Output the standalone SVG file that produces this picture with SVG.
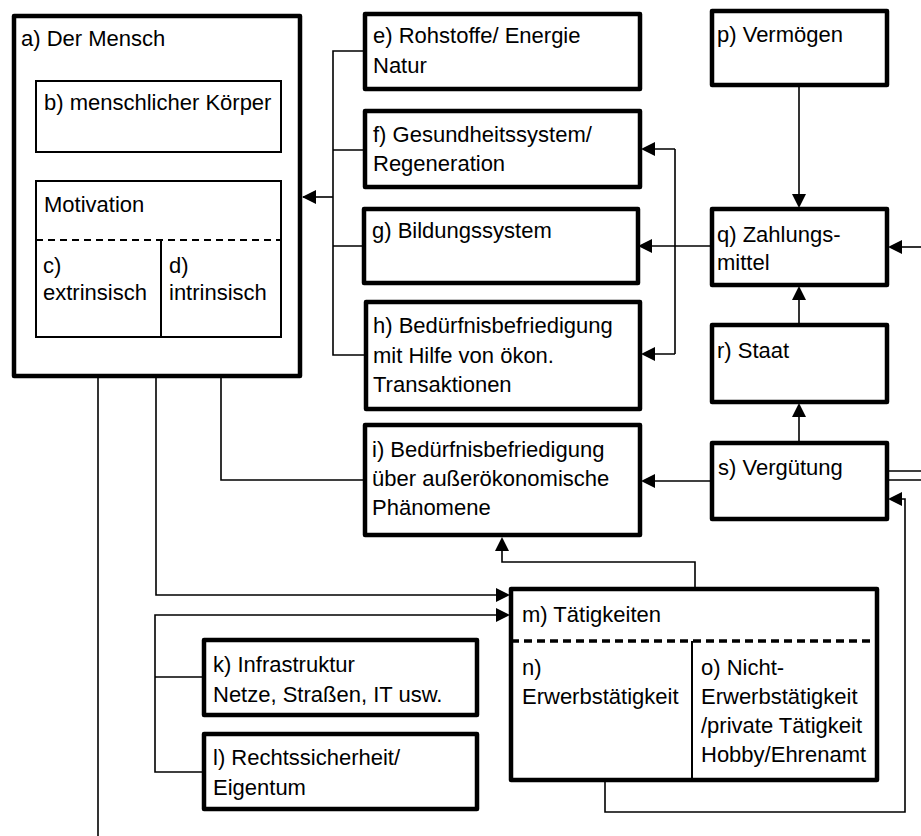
<svg xmlns="http://www.w3.org/2000/svg" width="921" height="836" viewBox="0 0 921 836">
<style>
text{font-family:"Liberation Sans",Arial,sans-serif;font-size:22px;fill:#000}
.tb{fill:#fff;stroke:#000;stroke-width:4.5;stroke-linejoin:round}
.nb{fill:#fff;stroke:#000;stroke-width:2}
.ln{fill:none;stroke:#000;stroke-width:1.6}
.ar{fill:none;stroke:#000;stroke-width:1.6;marker-end:url(#ah)}
.ds{stroke:#000;stroke-width:2.2;stroke-dasharray:7 5}
.dm{stroke:#000;stroke-width:3.5;stroke-dasharray:8 5}
</style>
<defs>
<marker id="ah" viewBox="0 0 10 10" refX="10" refY="5" markerWidth="9" markerHeight="9" markerUnits="userSpaceOnUse" orient="auto">
<path d="M0,0 L10,5 L0,10 z" fill="#000"/>
</marker>
</defs>
<rect width="921" height="836" fill="#fff"/>
<g id="connectors">
<path class="ln" d="M365,51 H333 V355 H366 M333,150 H365 M333,246 H364"/>
<path class="ar" d="M333,197 H303" style="marker-end:none"/>
<path d="M302,197 L316,190 L316,204 z"/>
<path class="ln" d="M712,246 H651"/>
<path d="M638,246 L652,239 L652,253 z"/>
<path class="ln" d="M675,149 V354 M675,149 H654 M675,354 H654"/>
<path d="M641,149 L655,142 L655,156 z"/>
<path d="M641,354 L655,347 L655,361 z"/>
<path class="ln" d="M921,247 H901"/>
<path d="M888,247 L902,240 L902,254 z"/>
<path class="ln" d="M799,85 V195"/>
<path d="M799,208 L792,194 L806,194 z"/>
<path class="ln" d="M799,325 V299"/>
<path d="M799,286 L792,300 L806,300 z"/>
<path class="ln" d="M799,443 V416"/>
<path d="M799,403 L792,417 L806,417 z"/>
<path class="ln" d="M712,481 H655"/>
<path d="M641,481 L655,474 L655,488 z"/>
<path class="ln" d="M888,471 H921 M888,480 H921"/>
<path class="ln" d="M605,780 V812 H905 V499 H901"/>
<path d="M888,499 L902,492 L902,506 z"/>
<path class="ln" d="M695,589 V562 H502 V551"/>
<path d="M502,537 L495,551 L509,551 z"/>
<path class="ln" d="M156,377 V595 H497"/>
<path d="M510,595 L496,588 L496,602 z"/>
<path class="ln" d="M204,677 H155 V615 H497 M155,677 V772 H204"/>
<path d="M510,615 L496,608 L496,622 z"/>
<path class="ln" d="M365,480 H221 V351"/>
<path d="M221,338 L214,352 L228,352 z"/>
<path class="ln" d="M98,836 V351"/>
<path d="M98,338 L91,352 L105,352 z"/>
</g>
<g id="a">
<rect class="tb" x="14" y="16" width="286" height="360"/>
<text x="21" y="46">a) Der Mensch</text>
</g>
<g id="b">
<rect class="nb" x="36" y="81" width="245" height="71"/>
<text x="44" y="110">b) menschlicher Körper</text>
</g>
<g id="motivation">
<rect class="nb" x="36" y="181" width="245" height="156"/>
<text x="44" y="212">Motivation</text>
<line class="ds" x1="36" y1="240" x2="281" y2="240"/>
<line stroke="#000" stroke-width="2" x1="161" y1="240" x2="161" y2="337"/>
</g>
<g id="c">
<text x="43" y="273">c)</text>
<text x="43" y="300">extrinsisch</text>
</g>
<g id="d">
<text x="169" y="273">d)</text>
<text x="169" y="300">intrinsisch</text>
</g>
<g id="e">
<rect class="tb" x="365" y="14" width="275" height="75"/>
<text x="373" y="43">e) Rohstoffe/ Energie</text>
<text x="373" y="73">Natur</text>
</g>
<g id="f">
<rect class="tb" x="365" y="111" width="275" height="76"/>
<text x="373" y="142">f) Gesundheitssystem/</text>
<text x="373" y="171">Regeneration</text>
</g>
<g id="g">
<rect class="tb" x="364" y="209" width="274" height="74"/>
<text x="372" y="238">g) Bildungssystem</text>
</g>
<g id="h">
<rect class="tb" x="366" y="302" width="274" height="107"/>
<text x="373" y="333">h) Bedürfnisbefriedigung</text>
<text x="373" y="363">mit Hilfe von ökon.</text>
<text x="373" y="392">Transaktionen</text>
</g>
<g id="i">
<rect class="tb" x="365" y="425" width="275" height="110"/>
<text x="372" y="457">i) Bedürfnisbefriedigung</text>
<text x="372" y="486">über außerökonomische</text>
<text x="372" y="515">Phänomene</text>
</g>
<g id="p">
<rect class="tb" x="712" y="11" width="175" height="74"/>
<text x="717" y="42">p) Vermögen</text>
</g>
<g id="q">
<rect class="tb" x="712" y="209" width="175" height="76"/>
<text x="717" y="242">q) Zahlungs-</text>
<text x="717" y="270">mittel</text>
</g>
<g id="r">
<rect class="tb" x="712" y="325" width="175" height="77"/>
<text x="717" y="358">r) Staat</text>
</g>
<g id="s">
<rect class="tb" x="712" y="443" width="175" height="76"/>
<text x="718" y="475">s) Vergütung</text>
</g>
<g id="m">
<rect class="tb" x="511" y="589" width="366" height="191"/>
<text x="522" y="622">m) Tätigkeiten</text>
<line class="dm" x1="511" y1="641" x2="877" y2="641"/>
<line stroke="#000" stroke-width="2" x1="692" y1="641" x2="692" y2="780"/>
</g>
<g id="n">
<text x="522" y="675">n)</text>
<text x="522" y="704">Erwerbstätigkeit</text>
</g>
<g id="o">
<text x="701" y="675">o) Nicht-</text>
<text x="701" y="704">Erwerbstätigkeit</text>
<text x="701" y="733">/private Tätigkeit</text>
<text x="701" y="762">Hobby/Ehrenamt</text>
</g>
<g id="k">
<rect class="tb" x="204" y="640" width="273" height="75"/>
<text x="213" y="672">k) Infrastruktur</text>
<text x="213" y="702">Netze, Straßen, IT usw.</text>
</g>
<g id="l">
<rect class="tb" x="204" y="734" width="273" height="75"/>
<text x="213" y="765">l) Rechtssicherheit/</text>
<text x="213" y="795">Eigentum</text>
</g>
</svg>
